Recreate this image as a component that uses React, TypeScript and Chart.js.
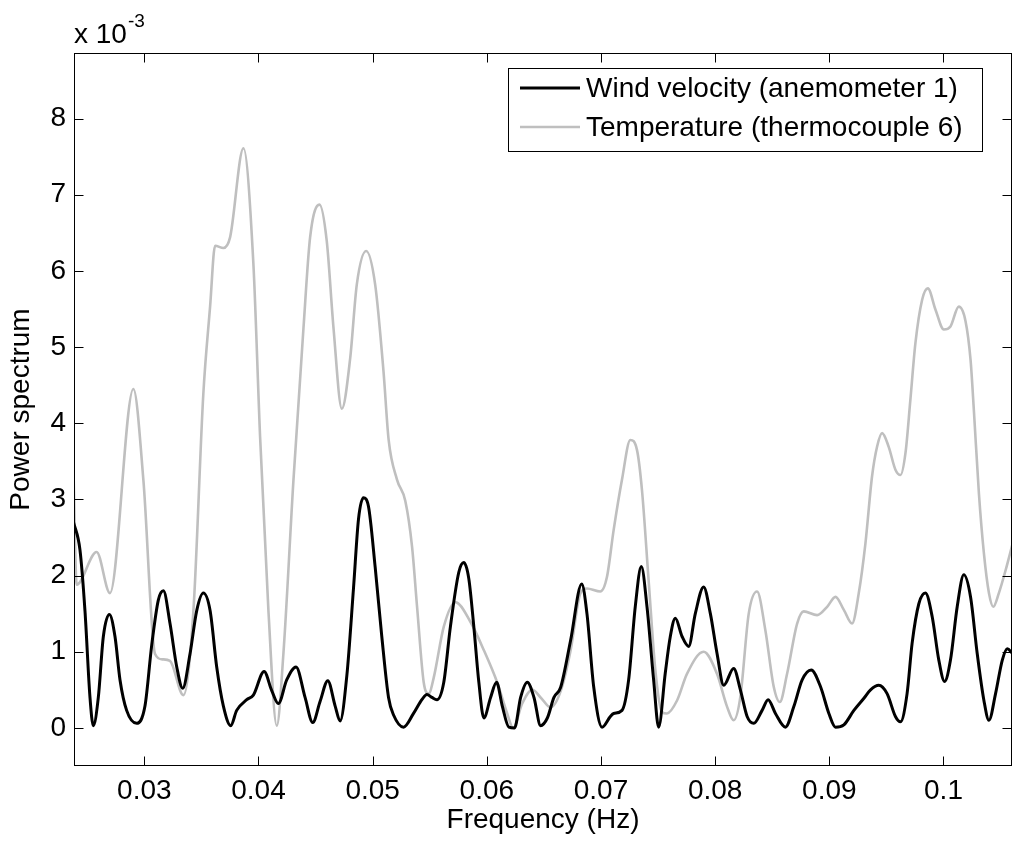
import React, { useEffect, useRef } from "react";
import { Chart, registerables } from "chart.js";

Chart.register(...registerables);

const FONT = "'Liberation Sans', Arial, Helvetica, sans-serif";

// Wind velocity (anemometer 1) — frequency (Hz) and power (x 10^-3)
const windFreq = [
  0.0238, 0.02436, 0.0248, 0.02524, 0.02553, 0.02597, 0.02641, 0.02694, 0.02743, 0.02787,
  0.02845, 0.02933, 0.03006, 0.03065, 0.03123, 0.03167, 0.03225, 0.03284, 0.03336, 0.034,
  0.03459, 0.03517, 0.03576, 0.03634, 0.03692, 0.03757, 0.03809, 0.03897, 0.03955, 0.04049,
  0.04116, 0.04174, 0.04247, 0.04329, 0.04408, 0.04475, 0.0454, 0.04607, 0.04671, 0.04715,
  0.04774, 0.04832, 0.04876, 0.04919, 0.04963, 0.05022, 0.0508, 0.05139, 0.05183, 0.05271,
  0.05358, 0.05431, 0.05475, 0.05519, 0.05563, 0.05623, 0.05681, 0.05754, 0.05798, 0.05842,
  0.05886, 0.0593, 0.05974, 0.06033, 0.06085, 0.06135, 0.06193, 0.06243, 0.06296, 0.06354,
  0.06413, 0.06471, 0.0653, 0.06588, 0.06646, 0.06734, 0.06831, 0.06877, 0.06936, 0.07009,
  0.07082, 0.07111, 0.07184, 0.07242, 0.073, 0.07353, 0.07403, 0.07461, 0.07505, 0.07563,
  0.07607, 0.07651, 0.0771, 0.07768, 0.07826, 0.07899, 0.07958, 0.08016, 0.08075, 0.08162,
  0.08221, 0.0828, 0.08338, 0.08411, 0.08464, 0.08528, 0.08615, 0.08689, 0.08762, 0.08841,
  0.08923, 0.08996, 0.09054, 0.09127, 0.09215, 0.09303, 0.09361, 0.09433, 0.09506, 0.09579,
  0.09623, 0.09681, 0.09725, 0.09784, 0.09842, 0.09901, 0.09959, 0.10009, 0.10061, 0.1012,
  0.10178, 0.10237, 0.10295, 0.10354, 0.10398, 0.10456, 0.10515, 0.10559, 0.10602,
];
const windPower = [
  2.7, 2.34, 1.54, 0.4, 0.03, 0.4, 1.2, 1.49, 1.2, 0.63,
  0.23, 0.06, 0.29, 1.09, 1.68, 1.8, 1.37, 0.8, 0.52, 0.97,
  1.54, 1.77, 1.54, 0.8, 0.29, 0.03, 0.23, 0.37, 0.43, 0.74,
  0.49, 0.32, 0.63, 0.8, 0.4, 0.07, 0.35, 0.62, 0.29, 0.09,
  0.69, 1.83, 2.74, 3.02, 2.91, 2.11, 1.2, 0.4, 0.17, 0.01,
  0.19, 0.37, 0.44, 0.4, 0.37, 0.6, 1.33, 2.04, 2.17, 1.96,
  1.33, 0.6, 0.13, 0.4, 0.6, 0.29, 0.01, 0.0, 0.4, 0.6,
  0.4, 0.03, 0.13, 0.4, 0.53, 1.15, 1.89, 1.5, 0.54, 0.01,
  0.15, 0.19, 0.23, 0.63, 1.59, 2.12, 1.59, 0.63, 0.01, 0.72,
  1.2, 1.44, 1.2, 1.07, 1.5, 1.85, 1.5, 0.98, 0.56, 0.78,
  0.5, 0.15, 0.06, 0.23, 0.37, 0.19, 0.01, 0.28, 0.63, 0.76,
  0.54, 0.19, 0.01, 0.04, 0.23, 0.39, 0.5, 0.56, 0.45, 0.15,
  0.08, 0.45, 1.11, 1.63, 1.77, 1.46, 0.89, 0.61, 0.89, 1.59,
  2.01, 1.72, 0.98, 0.36, 0.1, 0.45, 0.89, 1.04, 0.98,
];

// Temperature (thermocouple 6) — frequency (Hz) and power (x 10^-3)
const tempFreq = [
  0.0238, 0.02407, 0.02582, 0.02699, 0.02904, 0.02992, 0.03094, 0.0316, 0.03225, 0.03342,
  0.0343, 0.03517, 0.03576, 0.0362, 0.03692, 0.03751, 0.03868, 0.03955, 0.04014, 0.04087,
  0.0416, 0.04218, 0.04306, 0.04394, 0.04452, 0.04534, 0.04598, 0.04657, 0.0473, 0.04803,
  0.04861, 0.04943, 0.05022, 0.05095, 0.0514, 0.05213, 0.05286, 0.05345, 0.05389, 0.05447,
  0.05491, 0.05535, 0.05623, 0.05725, 0.05857, 0.05974, 0.0609, 0.06178, 0.06231, 0.0631,
  0.06398, 0.06471, 0.06558, 0.06646, 0.06734, 0.0682, 0.06877, 0.06994, 0.07052, 0.07111,
  0.07184, 0.07257, 0.07315, 0.07359, 0.07417, 0.07476, 0.07534, 0.07578, 0.07666, 0.07753,
  0.07899, 0.08016, 0.08104, 0.08162, 0.08221, 0.08294, 0.08367, 0.0844, 0.08513, 0.08566,
  0.0863, 0.08718, 0.08776, 0.08893, 0.08981, 0.09054, 0.09127, 0.09199, 0.09258, 0.09316,
  0.09374, 0.09418, 0.09462, 0.0952, 0.09579, 0.09623, 0.09667, 0.0971, 0.09754, 0.09813,
  0.09863, 0.0993, 0.10003, 0.10061, 0.10134, 0.10193, 0.10237, 0.10266, 0.1031, 0.10354,
  0.10398, 0.10436, 0.10485, 0.10544, 0.10602,
];
const tempPower = [
  3.34, 1.88, 2.31, 1.77, 4.45, 3.25, 0.97, 0.9, 0.88, 0.43,
  1.54, 4.39, 5.53, 6.33, 6.3, 6.44, 7.61, 6.1, 3.82, 1.54,
  0.03, 0.97, 3.25, 5.25, 6.44, 6.87, 6.39, 5.25, 4.19, 4.85,
  5.82, 6.26, 5.82, 4.68, 3.78, 3.26, 2.98, 2.38, 1.59, 0.6,
  0.45, 0.66, 1.33, 1.65, 1.39, 1.02, 0.6, 0.19, 0.0, 0.32,
  0.5, 0.4, 0.27, 0.48, 1.02, 1.77, 1.83, 1.79, 1.98, 2.6,
  3.26, 3.78, 3.65, 3.12, 1.94, 0.76, 0.21, 0.19, 0.36, 0.71,
  1.0, 0.71, 0.28, 0.1, 0.41, 1.5, 1.79, 1.28, 0.54, 0.34,
  0.71, 1.37, 1.53, 1.48, 1.59, 1.72, 1.55, 1.37, 1.77, 2.42,
  3.3, 3.69, 3.87, 3.69, 3.39, 3.32, 3.61, 4.31, 5.05, 5.62,
  5.77, 5.49, 5.23, 5.27, 5.53, 5.34, 4.83, 4.17, 3.08, 2.29,
  1.77, 1.59, 1.77, 2.07, 2.4,
];

const xTickValues = [0.03, 0.04, 0.05, 0.06, 0.07, 0.08, 0.09, 0.1];
const xTickLabels = ["0.03", "0.04", "0.05", "0.06", "0.07", "0.08", "0.09", "0.1"];
const yTickValues = [0, 1, 2, 3, 4, 5, 6, 7, 8];
const yTickLabels = ["0", "1", "2", "3", "4", "5", "6", "7", "8"];
const seriesNames = ["Wind velocity (anemometer 1)", "Temperature (thermocouple 6)"];
const seriesColors = ["#000000", "#bfbfbf"];
const seriesWidths = [3, 2.6];
const xAxisTitle = "Frequency (Hz)";
const yAxisTitle = "Power spectrum";
const yMultiplierBase = "x 10";
const yMultiplierExp = "-3";

const X_MIN = 0.02384;
const X_MAX = 0.106;
const Y_MIN = -0.5;
const Y_MAX = 8.86;

function toPoints(xs: number[], ys: number[]) {
  return xs.map((x, i) => ({ x, y: ys[i] }));
}

const framePlugin = {
  id: "matlabFrame",
  afterDraw(chart: any) {
    const { ctx, chartArea, scales } = chart;
    const L = Math.round(chartArea.left) + 0.5;
    const R = Math.round(chartArea.right) - 0.5;
    const T = Math.round(chartArea.top) + 0.5;
    const B = Math.round(chartArea.bottom) - 0.5;
    ctx.save();
    ctx.strokeStyle = "#000";
    ctx.lineWidth = 1;
    ctx.strokeRect(L, T, R - L, B - T);
    const tl = 9;
    ctx.beginPath();
    xTickValues.forEach((v) => {
      const px = Math.round(scales.x.getPixelForValue(v)) + 0.5;
      ctx.moveTo(px, B);
      ctx.lineTo(px, B - tl);
      ctx.moveTo(px, T);
      ctx.lineTo(px, T + tl);
    });
    yTickValues.forEach((v) => {
      const py = Math.round(scales.y.getPixelForValue(v)) + 0.5;
      ctx.moveTo(L, py);
      ctx.lineTo(L + tl, py);
      ctx.moveTo(R, py);
      ctx.lineTo(R - tl, py);
    });
    ctx.stroke();

    // exponent multiplier
    ctx.fillStyle = "#000";
    ctx.textAlign = "left";
    ctx.textBaseline = "alphabetic";
    ctx.font = `28px ${FONT}`;
    ctx.fillText(yMultiplierBase, chartArea.left, 43);
    const w = ctx.measureText(yMultiplierBase).width;
    ctx.font = `19px ${FONT}`;
    ctx.fillText(yMultiplierExp, chartArea.left + w + 1, 27);

    // axis titles
    ctx.font = `28px ${FONT}`;
    ctx.textAlign = "center";
    ctx.fillText(xAxisTitle, (chartArea.left + chartArea.right) / 2, 828);
    ctx.save();
    ctx.translate(29, (chartArea.top + chartArea.bottom) / 2);
    ctx.rotate(-Math.PI / 2);
    ctx.fillText(yAxisTitle, 0, 0);
    ctx.restore();

    // legend
    const bx = 508.5, by = 68.5, bw = 474, bh = 83;
    ctx.fillStyle = "#fff";
    ctx.fillRect(bx, by, bw, bh);
    ctx.strokeStyle = "#000";
    ctx.lineWidth = 1;
    ctx.strokeRect(bx, by, bw, bh);
    const rows = [88, 127];
    ctx.font = `28px ${FONT}`;
    ctx.textAlign = "left";
    ctx.textBaseline = "middle";
    seriesNames.forEach((name, i) => {
      ctx.strokeStyle = seriesColors[i];
      ctx.lineWidth = seriesWidths[i];
      ctx.beginPath();
      ctx.moveTo(520, rows[i]);
      ctx.lineTo(580, rows[i]);
      ctx.stroke();
      ctx.fillStyle = "#000";
      ctx.fillText(name, 586, rows[i] + 1);
    });
    ctx.restore();
  },
};

export default function App() {
  const canvasRef = useRef<HTMLCanvasElement | null>(null);

  useEffect(() => {
    const canvas = canvasRef.current;
    if (!canvas) return;
    const chart = new Chart(canvas, {
      type: "line",
      data: {
        datasets: [
          {
            label: seriesNames[0],
            data: toPoints(windFreq, windPower),
            borderColor: seriesColors[0],
            borderWidth: seriesWidths[0],
            pointRadius: 0,
            fill: false,
            cubicInterpolationMode: "monotone",
          },
          {
            label: seriesNames[1],
            data: toPoints(tempFreq, tempPower),
            borderColor: seriesColors[1],
            borderWidth: seriesWidths[1],
            pointRadius: 0,
            fill: false,
            cubicInterpolationMode: "monotone",
          },
        ],
      },
      options: {
        responsive: false,
        animation: false,
        devicePixelRatio: 1,
        layout: { padding: { left: 0, right: 1, top: 53, bottom: 0 } },
        plugins: {
          legend: { display: false },
          tooltip: { enabled: false },
          title: { display: false },
        },
        scales: {
          x: {
            type: "linear",
            min: X_MIN,
            max: X_MAX,
            afterBuildTicks: (s: any) => {
              s.ticks = xTickValues.map((v) => ({ value: v }));
            },
            afterFit: (s: any) => {
              s.height = 78;
            },
            grid: { display: false, drawTicks: false },
            border: { display: false },
            ticks: {
              color: "#000",
              font: { family: FONT, size: 28 },
              padding: 8,
              maxRotation: 0,
              autoSkip: false,
              callback: (_v: any, i: number) => xTickLabels[i],
            },
          },
          y: {
            type: "linear",
            min: Y_MIN,
            max: Y_MAX,
            afterBuildTicks: (s: any) => {
              s.ticks = yTickValues.map((v) => ({ value: v }));
            },
            afterFit: (s: any) => {
              s.width = 74;
            },
            grid: { display: false, drawTicks: false },
            border: { display: false },
            ticks: {
              color: "#000",
              font: { family: FONT, size: 28 },
              padding: 8,
              autoSkip: false,
              callback: (_v: any, i: number) => yTickLabels[i],
            },
          },
        },
      },
      plugins: [framePlugin],
    });
    return () => chart.destroy();
  }, []);

  return (
    <div style={{ position: "absolute", left: 0, top: 0, width: 1013, height: 844, background: "#fff" }}>
      <canvas ref={canvasRef} width={1013} height={844} style={{ display: "block" }} />
    </div>
  );
}
